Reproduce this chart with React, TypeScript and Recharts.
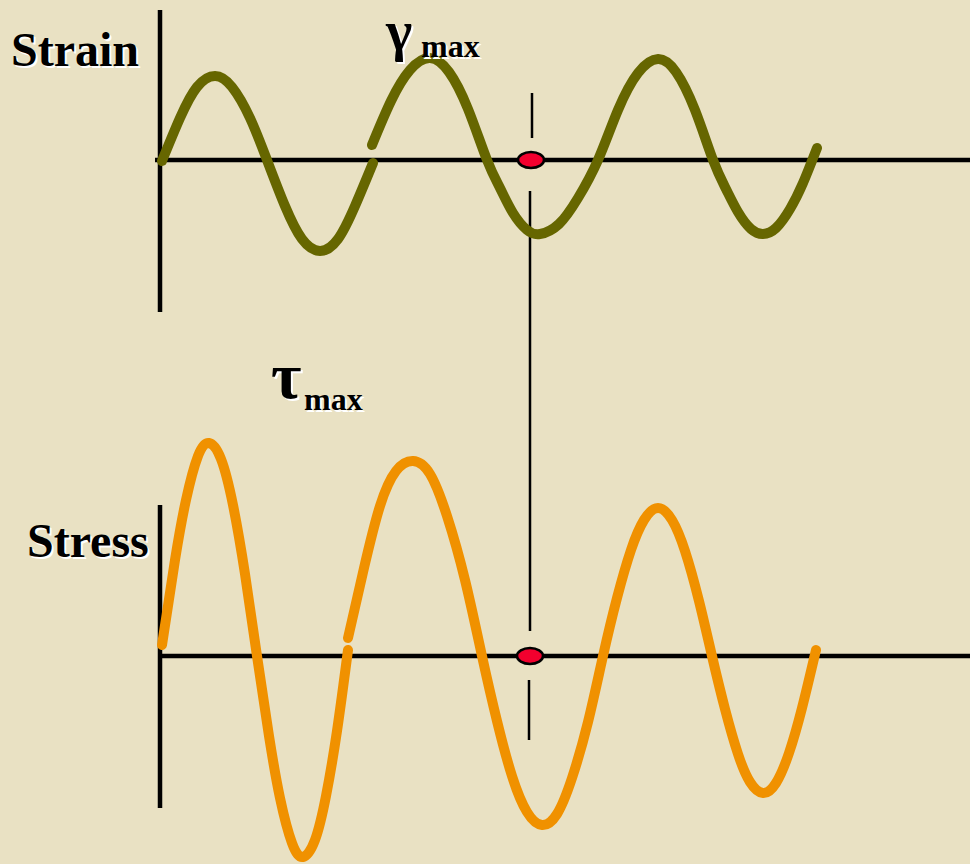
import { ComposedChart, Line, XAxis, YAxis, ReferenceLine, Scatter } from 'recharts';

// time (s) and readings for each drawn stretch of the two curves
const strainT1 = [0.02, 0.2, 0.37, 0.55, 0.72, 0.9, 1.07, 1.25, 1.42, 1.6, 1.78, 1.95, 2.13];
const strainV1 = [-0.01, 0.42, 0.73, 0.84, 0.73, 0.42, 0, -0.46, -0.79, -0.91, -0.79, -0.46, -0.03];

const strainT2 = [
  2.12, 2.31, 2.5, 2.7, 2.89, 3.08, 3.27, 3.4, 3.53, 3.67, 3.8, 3.99, 4.18, 4.38, 4.58, 4.78, 4.98, 5.16,
  5.35, 5.53, 5.66, 5.78, 5.91, 6.03, 6.16, 6.3, 6.43, 6.57,
];
const strainV2 = [
  0.15, 0.59, 0.9, 1.02, 0.88, 0.51, 0, -0.28, -0.53, -0.7, -0.74, -0.64, -0.38, 0, 0.5, 0.87, 1.01, 0.88,
  0.5, 0, -0.29, -0.52, -0.69, -0.74, -0.68, -0.49, -0.23, 0.12,
];

const stressT1 = [0.02, 0.15, 0.26, 0.38, 0.49, 0.61, 0.73, 0.85, 0.97, 1.09, 1.2, 1.32, 1.43, 1.55, 1.66, 1.77, 1.88];
const stressV1 = [0.11, 0.96, 1.56, 2.0, 2.13, 1.97, 1.51, 0.82, 0, -0.8, -1.42, -1.87, -2.01, -1.84, -1.4, -0.75, 0.06];

const stressT2 = [
  1.88, 2.04, 2.2, 2.36, 2.53, 2.7, 2.87, 3.05, 3.22, 3.37, 3.52, 3.67, 3.82, 3.97, 4.12, 4.28, 4.43, 4.57,
  4.71, 4.84, 4.98, 5.12, 5.25, 5.39, 5.52, 5.65, 5.78, 5.9, 6.03, 6.16, 6.29, 6.42, 6.56,
];
const stressV2 = [
  0.18, 0.88, 1.5, 1.85, 1.95, 1.82, 1.4, 0.76, 0, -0.65, -1.2, -1.56, -1.69, -1.58, -1.22, -0.66, 0, 0.58,
  1.06, 1.36, 1.48, 1.36, 1.05, 0.55, 0, -0.53, -0.98, -1.26, -1.37, -1.27, -0.97, -0.52, 0.06,
];

// instant where strain is zero, marked on both traces
const markT = 3.7;

const zip = (ts: number[], vs: number[]) => ts.map((t, i) => ({ t, v: vs[i] }));

const OLIVE = '#666600';
const ORANGE = '#F09100';
const BG = '#E9E1C3';
const FONT = '"Liberation Serif", "Times New Roman", serif';

const dot = (props: any) => (
  <ellipse cx={props.cx} cy={props.cy} rx={13} ry={8} fill="#F2002E" stroke="#000" strokeWidth={2.5} />
);

// bold caption with the white offset shadow of the original slide
function Caption({ x, y, size, children }: { x: number; y: number; size: number; children: string }) {
  return (
    <>
      <text x={x + 2} y={y + 2} fontSize={size} fontWeight="bold" fontFamily={FONT} fill="#fff">
        {children}
      </text>
      <text x={x} y={y} fontSize={size} fontWeight="bold" fontFamily={FONT} fill="#000">
        {children}
      </text>
    </>
  );
}

const lineProps = {
  type: 'natural' as const,
  dataKey: 'v',
  strokeWidth: 10,
  strokeLinecap: 'round' as const,
  dot: false,
  activeDot: false,
  legendType: 'none' as const,
  isAnimationActive: false,
};

export default function App() {
  return (
    <div style={{ position: 'absolute', left: 0, top: 0, width: 970, height: 864, background: BG, overflow: 'hidden' }}>
      <ComposedChart width={970} height={864} margin={{ top: 0, right: 0, bottom: 0, left: 0 }}>
        <XAxis hide type="number" dataKey="t" domain={[-1.6, 8.1]} allowDataOverflow />
        <YAxis hide yAxisId="strain" type="number" domain={[-7.04, 1.6]} allowDataOverflow />
        <YAxis hide yAxisId="stress" type="number" domain={[-2.08, 6.56]} allowDataOverflow />

        {/* strain axes */}
        <ReferenceLine yAxisId="strain" segment={[{ x: 0, y: 1.5 }, { x: 0, y: -1.52 }]} stroke="#000" strokeWidth={4.5} />
        <ReferenceLine yAxisId="strain" segment={[{ x: -0.05, y: 0 }, { x: 8.1, y: 0 }]} stroke="#000" strokeWidth={4.5} />
        {/* stress axes */}
        <ReferenceLine yAxisId="stress" segment={[{ x: 0, y: 1.51 }, { x: 0, y: -1.52 }]} stroke="#000" strokeWidth={4.5} />
        <ReferenceLine yAxisId="stress" segment={[{ x: 0, y: 0 }, { x: 8.1, y: 0 }]} stroke="#000" strokeWidth={4.5} />

        {/* time marker */}
        <ReferenceLine yAxisId="strain" segment={[{ x: markT + 0.02, y: 0.67 }, { x: markT + 0.02, y: 0.22 }]} stroke="#000" strokeWidth={2.5} />
        <ReferenceLine yAxisId="strain" segment={[{ x: markT, y: -0.31 }, { x: markT, y: -4.71 }]} stroke="#000" strokeWidth={2.5} />
        <ReferenceLine yAxisId="stress" segment={[{ x: markT - 0.01, y: -0.24 }, { x: markT - 0.01, y: -0.84 }]} stroke="#000" strokeWidth={2.5} />

        <Line yAxisId="strain" data={zip(strainT1, strainV1)} stroke={OLIVE} {...lineProps} />
        <Line yAxisId="strain" data={zip(strainT2, strainV2)} stroke={OLIVE} {...lineProps} />
        <Line yAxisId="stress" data={zip(stressT1, stressV1)} stroke={ORANGE} {...lineProps} />
        <Line yAxisId="stress" data={zip(stressT2, stressV2)} stroke={ORANGE} {...lineProps} />

        <Scatter yAxisId="strain" data={[{ t: markT + 0.01, v: 0 }]} dataKey="v" shape={dot} isAnimationActive={false} />
        <Scatter yAxisId="stress" data={[{ t: markT, v: 0 }]} dataKey="v" shape={dot} isAnimationActive={false} />
      </ComposedChart>

      <svg width={970} height={864} style={{ position: 'absolute', left: 0, top: 0, pointerEvents: 'none' }}>
        <Caption x={11} y={66} size={48}>Strain</Caption>
        <Caption x={27} y={557} size={48}>Stress</Caption>
        <Caption x={386} y={50} size={56}>γ</Caption>
        <Caption x={421} y={57} size={32}>max</Caption>
        <Caption x={271} y={398} size={66}>τ</Caption>
        <Caption x={304} y={410} size={32}>max</Caption>
      </svg>
    </div>
  );
}
